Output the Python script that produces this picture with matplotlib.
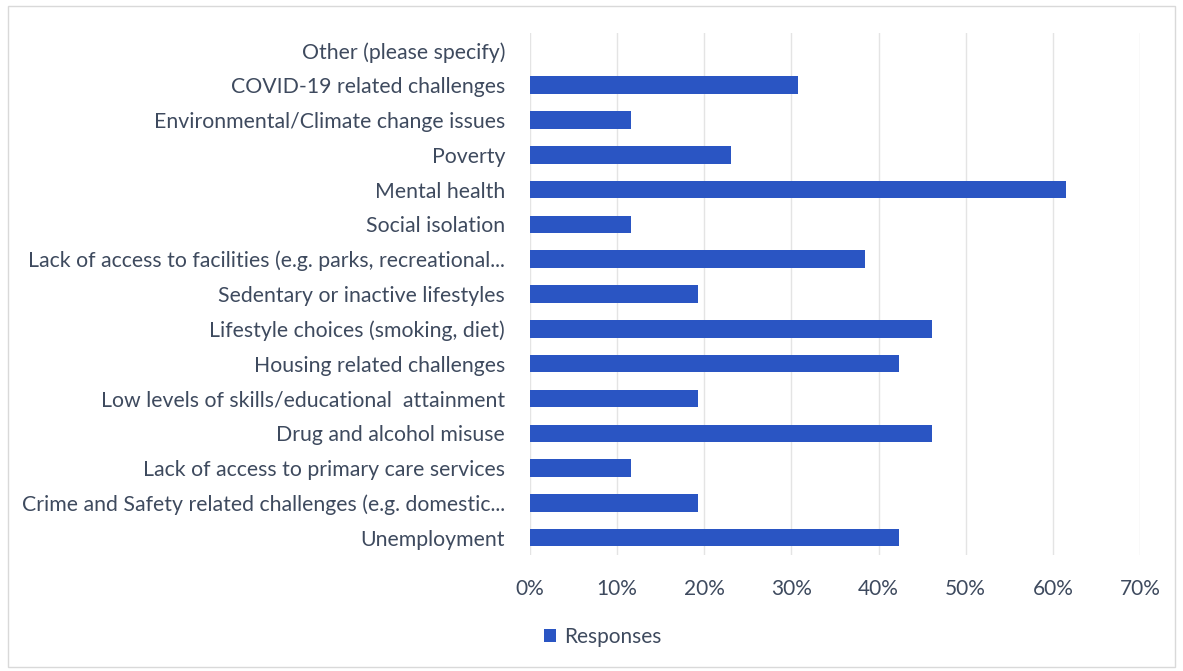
import matplotlib
matplotlib.use("Agg")
import matplotlib.pyplot as plt
from matplotlib.ticker import PercentFormatter
from matplotlib.patches import Rectangle

categories = [
    "Unemployment",
    "Crime and Safety related challenges (e.g. domestic...",
    "Lack of access to primary care services",
    "Drug and alcohol misuse",
    "Low levels of skills/educational  attainment",
    "Housing related challenges",
    "Lifestyle choices (smoking, diet)",
    "Sedentary or inactive lifestyles",
    "Lack of access to facilities (e.g. parks, recreational...",
    "Social isolation",
    "Mental health",
    "Poverty",
    "Environmental/Climate change issues",
    "COVID-19 related challenges",
    "Other (please specify)",
]
responses = [42.31, 19.23, 11.54, 46.15, 19.23, 42.31, 46.15, 19.23,
             38.46, 11.54, 61.54, 23.08, 11.54, 30.77, 0.0]
xticks = [0, 10, 20, 30, 40, 50, 60, 70]

plt.rcParams['font.family'] = ['Lato', 'DejaVu Sans']
text_color = '#3E4A5E'
bar_color = '#2A55C3'

fig = plt.figure(figsize=(11.83, 6.71), dpi=100)
ax = fig.add_axes([530/1183, 1 - 555/671, (1140-530)/1183, (555-33)/671])

y = list(range(len(categories)))
ax.barh(y, responses, height=0.5, color=bar_color, label='Responses', zorder=3)
ax.set_yticks(y)
ax.set_yticklabels(categories, fontsize=15.3, color=text_color)
ax.set_ylim(-0.5, len(categories) - 0.5)
ax.set_xlim(0, 70)
ax.set_xticks(xticks)
ax.xaxis.set_major_formatter(PercentFormatter(decimals=0))
ax.tick_params(axis='x', labelsize=15, labelcolor=text_color, length=0, pad=17)
ax.tick_params(axis='y', length=0, pad=18)
ax.grid(axis='x', color='#E4E4E4', linewidth=1, zorder=0)
for s in ax.spines.values():
    s.set_visible(False)

leg = ax.legend(loc='center', bbox_to_anchor=(603/1183, 1 - 637/671),
                bbox_transform=fig.transFigure, frameon=False, fontsize=15,
                handlelength=0.55, handleheight=0.55, handletextpad=0.4)
for t in leg.get_texts():
    t.set_color(text_color)

fig.patches.append(Rectangle((8/1183, 4/671), 1 - 16/1183, 1 - 10/671,
                             transform=fig.transFigure, fill=False,
                             edgecolor='#D9D9D9', linewidth=1))

fig.savefig('out.png', dpi=100, facecolor='white')
